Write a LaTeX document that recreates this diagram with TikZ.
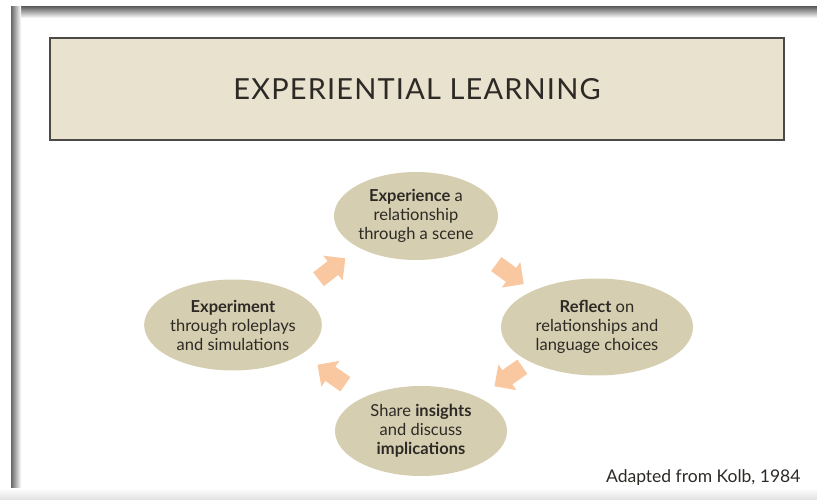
\documentclass[tikz,border=0pt]{standalone}
\usepackage{fontspec}
\setmainfont{Lato}
\usetikzlibrary{shapes,shapes.arrows,calc}
\definecolor{boxbeige}{RGB}{232,226,207}
\definecolor{stagekhaki}{RGB}{214,206,176}
\definecolor{arrowpeach}{RGB}{250,200,160}
\definecolor{inkgray}{RGB}{45,42,38}
\begin{document}
\begin{tikzpicture}[x=1pt,y=-1pt,
      every node/.style={text=inkgray},
      titlebox/.style={draw=inkgray!85,line width=1.6pt,fill=boxbeige,minimum width=734pt,minimum height=102pt},
      stage/.style={ellipse,fill=stagekhaki,align=center,inner sep=0pt,font=\fontsize{16.5}{19}\selectfont},
      flowarrow/.style={single arrow,fill=arrowpeach,minimum height=34pt,inner sep=8.5pt,single arrow head extend=7pt}]
    \useasboundingbox (0,0) rectangle (817,500);
    \shade[top color=black!60,bottom color=white] (11,7) rectangle (817,18);
    \shade[left color=black!60,right color=white] (11,7) rectangle (21,490);
    \shade[top color=white,bottom color=black!12] (0,488) rectangle (817,500);
    \node[titlebox] (title) at (417,89) {\fontsize{29}{32}\selectfont\addfontfeature{LetterSpace=4}EXPERIENTIAL LEARNING};
    \node[stage,minimum width=164pt,minimum height=88pt] (exper) at (416,216)
        {\textbf{Experience} a\\relationship\\through a scene};
    \node[stage,minimum width=192pt,minimum height=97pt] (reflect) at (597,327)
        {\textbf{Reflect} on\\relationships and\\language choices};
    \node[stage,minimum width=172pt,minimum height=90pt] (share) at (421,431)
        {Share \textbf{insights}\\and discuss\\\textbf{implications}};
    \node[stage,minimum width=165pt,minimum height=91pt] (experiment) at (233,325)
        {\textbf{Experiment}\\through roleplays\\and simulations};
    \node[flowarrow,rotate=38] (a1) at ($(experiment)!0.5!(exper)+(4,1)$) {};
    \node[flowarrow,rotate=-36] (a2) at ($(exper)!0.5!(reflect)$) {};
    \node[flowarrow,rotate=-145] (a3) at ($(reflect)!0.5!(share)+(3,-5)$) {};
    \node[flowarrow,rotate=145] (a4) at ($(share)!0.5!(experiment)+(8,-1)$) {};
    \node[anchor=east,font=\fontsize{17.5}{20}\selectfont] (source) at (804,478) {Adapted from Kolb, 1984};
\end{tikzpicture}
\end{document}
